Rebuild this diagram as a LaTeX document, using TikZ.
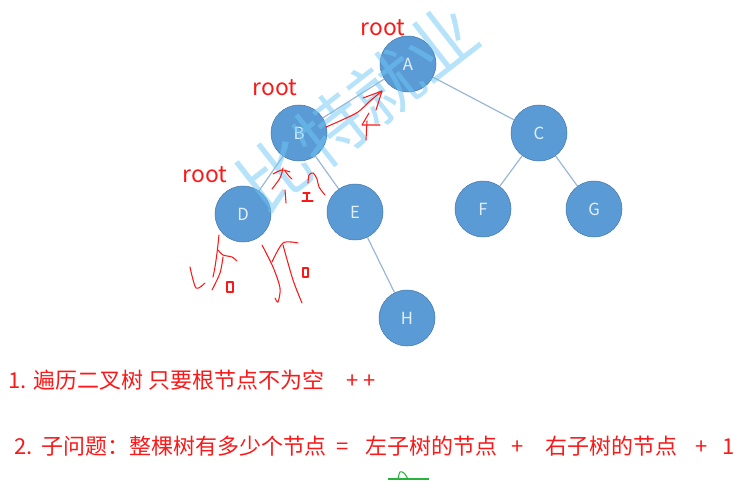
\documentclass[tikz,border=0pt]{standalone}
\usepackage{fontspec}
\setmainfont{Noto Sans CJK SC}
\newfontfamily\cjk{Noto Sans CJK SC}
\definecolor{nodeblue}{RGB}{91,155,213}
\definecolor{nodeline}{RGB}{70,120,170}
\definecolor{nodetext}{RGB}{225,238,250}
\definecolor{edgeblue}{RGB}{155,185,215}
\definecolor{inkred}{RGB}{250,25,25}
\definecolor{inkgreen}{RGB}{40,180,60}
\definecolor{markblue}{RGB}{110,200,245}
\begin{document}
\begin{tikzpicture}[x=0.02cm,y=-0.02cm,
    treenode/.style={circle,fill=nodeblue,draw=nodeline,line width=0.3pt,minimum size=1.12cm,inner sep=0pt,text=nodetext,font=\fontsize{9.5}{9.5}\selectfont},
    treeedge/.style={draw=edgeblue,line width=0.7pt},
    rootlabel/.style={text=inkred,anchor=base,font=\fontsize{13}{13}\selectfont},
    notetext/.style={text=inkred,anchor=base west,inner sep=0pt,font=\fontsize{12.5}{12.5}\selectfont},
    pen/.style={inkred,line width=0.6pt,line cap=round,line join=round}]
    \useasboundingbox (0,0) rectangle (750,480);
    % The binary tree
    \node[treenode] (A) at (408,64) {A};
    \node[treenode] (B) at (299,133) {B};
    \node[treenode] (C) at (539,133) {C};
    \node[treenode] (D) at (243,214) {D};
    \node[treenode] (E) at (355,212) {E};
    \node[treenode] (F) at (483,209) {F};
    \node[treenode] (G) at (594,209) {G};
    \node[treenode] (H) at (407,318) {H};
    \draw[treeedge] (A) -- (B);
    \draw[treeedge] (A) -- (C);
    \draw[treeedge] (B) -- (D);
    \draw[treeedge] (B) -- (E);
    \draw[treeedge] (C) -- (F);
    \draw[treeedge] (C) -- (G);
    \draw[treeedge] (E) -- (H);
    % Watermark
    \node[text=markblue,opacity=0.5,rotate=38,font=\fontsize{40}{40}\selectfont] (mark) at (358,108) {比特就业};
    % root labels
    \node[rootlabel] (rootA) at (383,35) {root};
    \node[rootlabel] (rootB) at (275,95) {root};
    \node[rootlabel] (rootD) at (205,182) {root};
    % Handwritten return arrow B -> A and the 4
    \draw[pen] plot[smooth] coordinates {(326,127) (342,120) (358,112) (370,101) (382,91)};
    \draw[pen] (363,98) -- (382,91) -- (376,110);
    \draw[pen] (369,113) -- (362,125) -- (380,125);
    \draw[pen] (367,121) -- (366,140);
    % Under B
    \draw[pen] plot[smooth] coordinates {(273,174) (282,170) (290,172)};
    \draw[pen] plot[smooth] coordinates {(283,168) (280,178) (272,189)};
    \draw[pen] plot[smooth] coordinates {(285,171) (288,175) (292,179)};
    \draw[pen] (285,190) -- (286,203);
    \draw[pen] (303,193) -- (310,193);
    \draw[pen] (307,193) -- (307,200);
    \draw[pen] (302,201) -- (313,201);
    \draw[pen] plot[smooth] coordinates {(308,183) (309,175) (313,173) (317,179) (319,187) (325,195)};
    % Under D
    \draw[pen] plot[smooth] coordinates {(219,235) (217,253) (215,267) (213,277)};
    \draw[pen] plot[smooth] coordinates {(190,267) (196,288) (205,283)};
    \draw[pen] plot[smooth] coordinates {(218,250) (223,255) (232,257) (237,261)};
    \draw[pen] plot[smooth] coordinates {(223,257) (220,273) (212,290)};
    \draw[pen] (227,282) rectangle (233,292);
    \draw[pen] plot[smooth] coordinates {(262,245) (273,267) (280,288) (278,302) (275,298)};
    \draw[pen] plot[smooth] coordinates {(272,262) (283,243) (298,243)};
    \draw[pen] plot[smooth] coordinates {(283,245) (293,280) (302,303)};
    \draw[pen] (303,268) rectangle (308,277);
    % Notes
    \node[notetext] (note1) at (8,388) {1.\hspace{4pt}遍历二叉树\hspace{3pt}只要根节点不为空\hspace{12.5pt}+\hspace{3pt}+};
    \node[notetext] (note2) at (14,454) {2.\hspace{5pt}子问题：整棵树有多少个节点\hspace{5.5pt}=\hspace{9.5pt}左子树的节点\hspace{8pt}+\hspace{12.5pt}右子树的节点\hspace{10.3pt}+\hspace{8.3pt}1};
    % green scribble
    \draw[inkgreen,line width=0.6pt] (388,479) -- (429,479);
    \draw[inkgreen,line width=0.6pt] plot[smooth] coordinates {(398,479) (400,472) (404,473) (408,479)};
\end{tikzpicture}
\end{document}
